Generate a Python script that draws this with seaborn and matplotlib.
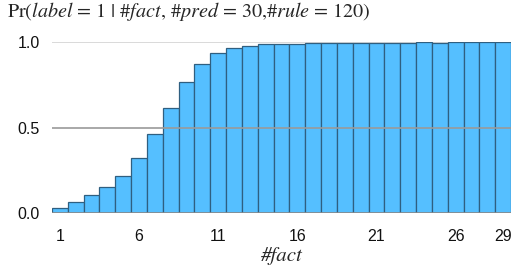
import matplotlib
matplotlib.use("Agg")
import matplotlib.pyplot as plt
import seaborn as sns
import pandas as pd

# data
n_fact = list(range(1, 30))
prob = [0.029, 0.064, 0.107, 0.152, 0.217, 0.320, 0.460, 0.615, 0.763, 0.870,
        0.932, 0.962, 0.975, 0.985, 0.986, 0.986, 0.992, 0.990, 0.990, 0.992,
        0.992, 0.992, 0.992, 0.997, 0.992, 0.997, 0.997, 0.997, 0.997]
tick_facts = [1, 6, 11, 16, 21, 26, 29]

df = pd.DataFrame({"fact": n_fact, "prob": prob})

sns.set_style("white")
plt.rcParams["font.family"] = ["Liberation Sans", "DejaVu Sans"]
plt.rcParams["mathtext.fontset"] = "stix"

fig = plt.figure(figsize=(5.14, 2.67), dpi=100)
ax = fig.add_axes([0.1012, 0.201, 0.893, 0.6427])

ax.axhline(1.0, color="#d3d3d3", lw=1.2, zorder=0)
sns.barplot(data=df, x="fact", y="prob", color="#55bfff", saturation=1,
            width=1.0, edgecolor="#2f5f80", linewidth=0.9, ax=ax, zorder=2)
ax.axhline(0.5, color="#9a9a9a", lw=1.2, zorder=3)
ax.axhline(0.0, color="#8a8a8a", lw=1.2, zorder=3)

ax.set_xlim(-0.5, len(n_fact) - 0.5)
ax.set_ylim(0, 1.0)
ax.set_yticks([0.0, 0.5, 1.0])
ax.set_yticklabels(["0.0", "0.5", "1.0"])
ax.set_xticks([n_fact.index(f) for f in tick_facts])
ax.set_xticklabels([str(f) for f in tick_facts])
ax.tick_params(axis="both", length=0, labelsize=11.5, colors="#111111")
ax.tick_params(axis="x", pad=11)
ax.tick_params(axis="y", pad=9)
for lbl in ax.get_yticklabels():
    lbl.set_va("center_baseline")
sns.despine(ax=ax, left=True, bottom=True)
ax.set_ylabel("")
ax.set_xlabel("#fact", fontsize=15, labelpad=2, family="STIXGeneral", style="italic")

title = "Pr($label$ = 1 | #$fact$, #$pred$ = 30,#$rule$ = 120)"
fig.text(0.014, 0.957, title, fontsize=14.5, ha="left", va="center",
         family="STIXGeneral")

fig.savefig("out.png", dpi=100)
